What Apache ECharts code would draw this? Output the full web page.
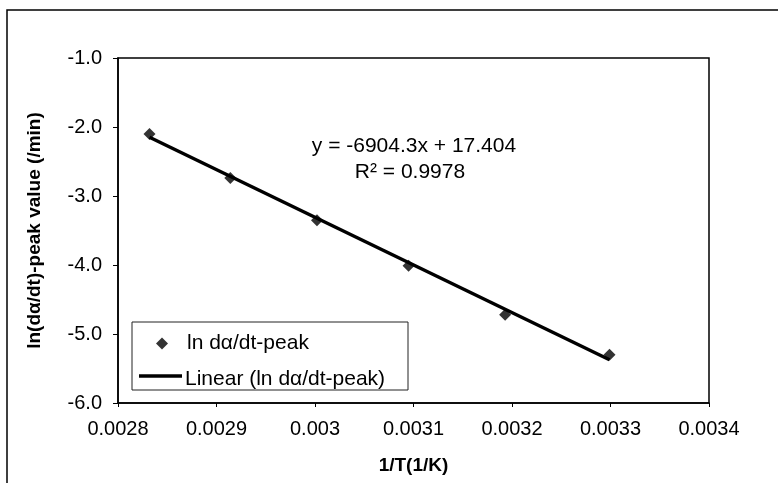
<!DOCTYPE html>
<html>
<head>
<meta charset="utf-8">
<script src="https://cdn.jsdelivr.net/npm/echarts@6/dist/echarts.min.js"></script>
<style>html,body{margin:0;padding:0;background:#fff}#c{width:778px;height:483px}</style>
</head>
<body>
<div id="c"></div>
<script>
// Data
var invT = [0.002832, 0.002914, 0.003002, 0.003095, 0.003193, 0.003299];
var lnRate = [-2.10, -2.74, -3.35, -4.01, -4.72, -5.30];
var trendX = [0.002832, 0.003299];
var trendY = [-2.149, -5.373];
var xTicks = [0.0028, 0.0029, 0.003, 0.0031, 0.0032, 0.0033, 0.0034];
var yTicks = [-6.0, -5.0, -4.0, -3.0, -2.0, -1.0];
var seriesName = 'ln dα/dt-peak';
var trendName = 'Linear (ln dα/dt-peak)';
var eqText = 'y = -6904.3x + 17.404';
var r2Text = 'R² = 0.9978';

var FONT = '"Liberation Sans", Arial, sans-serif';
var chart = echarts.init(document.getElementById('c'));
chart.setOption({
  animation: false,
  backgroundColor: '#fff',
  textStyle: {fontFamily: FONT, color: '#000'},
  grid: {left: 118, top: 58, right: 69, bottom: 80, show: true, borderColor: '#000', borderWidth: 1.5, backgroundColor: 'transparent'},
  xAxis: {
    type: 'value', min: xTicks[0], max: xTicks[xTicks.length - 1], interval: 0.0001,
    name: '1/T(1/K)', nameLocation: 'middle', nameGap: 53,
    nameTextStyle: {fontFamily: FONT, fontSize: 19, fontWeight: 'bold', color: '#000'},
    axisLine: {show: true, onZero: false, lineStyle: {color: '#000', width: 1.5}},
    axisTick: {show: true, inside: false, length: 4, lineStyle: {color: '#000'}},
    splitLine: {show: false},
    axisLabel: {fontFamily: FONT, fontSize: 20, color: '#000', margin: 16,
      formatter: function (v) { return String(+v.toFixed(4)); }}
  },
  yAxis: {
    type: 'value', min: yTicks[0], max: yTicks[yTicks.length - 1], interval: 1,
    name: 'ln(dα/dt)-peak value (/min)', nameLocation: 'middle', nameGap: 74,
    nameTextStyle: {fontFamily: FONT, fontSize: 19, fontWeight: 'bold', color: '#000'},
    axisLine: {show: true, onZero: false, lineStyle: {color: '#000', width: 1.5}},
    axisTick: {show: true, inside: false, length: 5, lineStyle: {color: '#000'}},
    splitLine: {show: false},
    axisLabel: {fontFamily: FONT, fontSize: 20, color: '#000', margin: 16,
      formatter: function (v) { return v.toFixed(1); }}
  },
  legend: [
    {data: [{name: seriesName, icon: 'diamond'}], left: 156, top: 333, orient: 'vertical', itemWidth: 12, itemHeight: 12, padding: 0,
     textStyle: {fontFamily: FONT, fontSize: 21, color: '#000', padding: [0, 0, 0, 14]}, selectedMode: false},
    {data: [{name: trendName, icon: 'rect', itemStyle: {color: 'rgba(0,0,0,0)', opacity: 0}}], left: 139, top: 369, orient: 'vertical', itemWidth: 41, itemHeight: 14, padding: 0,
     textStyle: {fontFamily: FONT, fontSize: 21, color: '#000'}, selectedMode: false}
  ],
  graphic: [
    {type: 'rect', shape: {x: 7, y: 10, width: 800, height: 500}, style: {fill: 'none', stroke: '#000', lineWidth: 1.5}, silent: true},
    {type: 'rect', shape: {x: 132, y: 322, width: 276, height: 68}, style: {fill: '#fff', stroke: '#222', lineWidth: 1}, silent: true, z: 0},
    {type: 'line', shape: {x1: 139, y1: 376, x2: 182, y2: 376}, style: {stroke: '#000', lineWidth: 3.5}, silent: true, z: 10},
    {type: 'text', style: {text: eqText, x: 414, y: 146, textAlign: 'center', textVerticalAlign: 'middle', font: '21px ' + FONT, fill: '#000'}, silent: true},
    {type: 'text', style: {text: r2Text, x: 410, y: 172, textAlign: 'center', textVerticalAlign: 'middle', font: '21px ' + FONT, fill: '#000'}, silent: true}
  ],
  series: [
    {name: trendName, type: 'line', symbol: 'none', z: 2,
     data: trendX.map(function (x, i) { return [x, trendY[i]]; }),
     lineStyle: {color: '#000', width: 3.5}, itemStyle: {color: '#000'}},
    {name: seriesName, type: 'scatter', symbol: 'diamond', symbolSize: 12, z: 3,
     data: invT.map(function (x, i) { return [x, lnRate[i]]; }),
     itemStyle: {color: '#000'}}
  ]
});
</script>
</body>
</html>
